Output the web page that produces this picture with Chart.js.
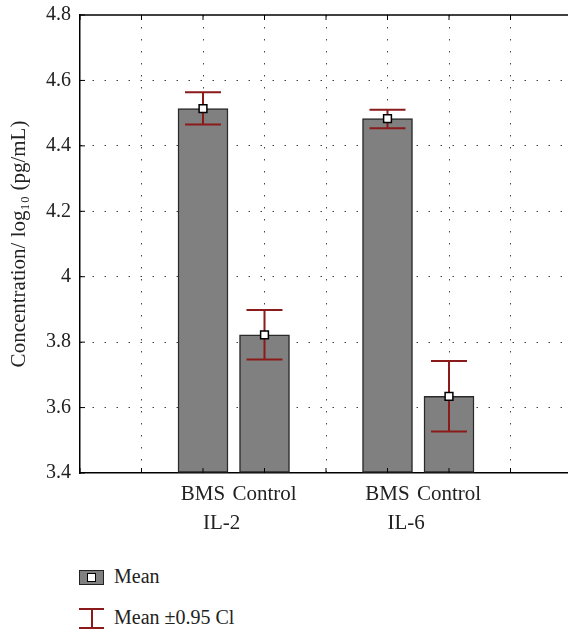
<!DOCTYPE html>
<html>
<head>
<meta charset="utf-8">
<script src="https://cdn.jsdelivr.net/npm/chart.js@4"></script>
<style>
  html, body { margin: 0; padding: 0; background: #fff; overflow: hidden; }
  #wrap { position: relative; width: 568px; height: 632px; overflow: hidden; }
  #chart { position: absolute; left: 0; top: 0; }
  .legend { position: absolute; left: 0; font-family: 'Liberation Serif', serif; font-size: 20px; color: #222; }
  .item { position: absolute; left: 79px; height: 22px; white-space: nowrap; }
  .item span { position: absolute; left: 35px; top: -2px; }
  .swatch { position: absolute; left: 0; top: 3px; width: 23px; height: 13px; background: #808080; border: 1px solid #222; }
  .swatch i { position: absolute; left: 7px; top: 2px; width: 7px; height: 7px; background: #fff; border: 1px solid #000; }
  .ebar { position: absolute; left: 0; top: 0; width: 25px; height: 21px; }
  .ebar b { position: absolute; background: #8b1a1a; }
</style>
</head>
<body>
<div id="wrap">
  <canvas id="chart" width="600" height="540"></canvas>
  <div class="legend">
    <div class="item" style="top:567px"><div class="swatch"><i></i></div><span>Mean</span></div>
    <div class="item" style="top:608px">
      <div class="ebar">
        <b style="left:0;top:0;width:25px;height:2px"></b>
        <b style="left:11.5px;top:0;width:2px;height:21px"></b>
        <b style="left:0;top:19px;width:25px;height:2px"></b>
      </div>
      <span>Mean ±0.95 Cl</span>
    </div>
  </div>
</div>
<script>
// categories and their slots on the x axis
const categories = ['BMS', 'Control', 'BMS', 'Control'];
const xPositions = [2, 3, 5, 6];
const groups = ['IL-2', 'IL-6'];
const groupStarts = [2, 5];

// means and 0.95 CI, log10 (pg/mL)
const means = [4.514, 3.822, 4.483, 3.634];
const ciLower = [4.465, 3.747, 4.454, 3.527];
const ciUpper = [4.564, 3.898, 4.510, 3.742];

const yTicks = [3.4, 3.6, 3.8, 4, 4.2, 4.4, 4.6, 4.8];
const yTickLabels = ['3.4', '3.6', '3.8', '4', '4.2', '4.4', '4.6', '4.8'];
const xTicks = [0, 1, 2, 3, 4, 5, 6, 7, 8];

const yMin = 3.4;
const yMax = 4.8;
const serif = "'Liberation Serif', 'DejaVu Serif', serif";
const red = '#8b1a1a';
const ink = '#222';

const errorBars = {
	id: 'errorBars',
	afterDatasetDraw(chart, args) {
		if (args.index !== 0) return;
		const { ctx } = chart;
		const x = chart.scales.x;
		const y = chart.scales.y;
		ctx.save();
		ctx.strokeStyle = red;
		ctx.lineWidth = 2;
		xPositions.forEach((pos, i) => {
			const px = x.getPixelForValue(pos);
			const top = y.getPixelForValue(ciUpper[i]);
			const bot = y.getPixelForValue(ciLower[i]);
			ctx.beginPath();
			ctx.moveTo(px, top);
			ctx.lineTo(px, bot);
			ctx.moveTo(px - 18, top);
			ctx.lineTo(px + 18, top);
			ctx.moveTo(px - 18, bot);
			ctx.lineTo(px + 18, bot);
			ctx.stroke();
		});
		ctx.restore();
	},
};

const frame = {
	id: 'frame',
	afterDraw(chart) {
		const { ctx, chartArea } = chart;
		const x = chart.scales.x;
		const y = chart.scales.y;
		ctx.save();
		ctx.strokeStyle = '#000';
		ctx.lineWidth = 1.5;
		ctx.beginPath();
		ctx.moveTo(chartArea.left, chartArea.top);
		ctx.lineTo(chartArea.right, chartArea.top);
		ctx.stroke();
		// inward ticks
		ctx.lineWidth = 1;
		ctx.beginPath();
		xTicks.forEach((v) => {
			const px = x.getPixelForValue(v);
			ctx.moveTo(px, chartArea.bottom);
			ctx.lineTo(px, chartArea.bottom - 5);
			ctx.moveTo(px, chartArea.top);
			ctx.lineTo(px, chartArea.top + 5);
		});
		yTicks.forEach((v) => {
			const py = y.getPixelForValue(v);
			ctx.moveTo(chartArea.left, py);
			ctx.lineTo(chartArea.left + 5, py);
		});
		ctx.stroke();
		// group labels under the category labels
		ctx.fillStyle = ink;
		ctx.font = '21px ' + serif;
		ctx.textAlign = 'left';
		ctx.textBaseline = 'middle';
		groups.forEach((g, i) => {
			ctx.fillText(g, x.getPixelForValue(groupStarts[i]), chartArea.bottom + 50);
		});
		ctx.restore();
	},
};

new Chart(document.getElementById('chart').getContext('2d'), {
	type: 'bar',
	data: {
		datasets: [
			{
				type: 'bar',
				data: xPositions.map((pos, i) => ({ x: pos, y: means[i] })),
				base: yMin,
				backgroundColor: '#808080',
				borderColor: '#2a2a2a',
				borderWidth: 1.5,
				borderSkipped: false,
				barThickness: 50,
				order: 2,
			},
			{
				type: 'scatter',
				data: xPositions.map((pos, i) => ({ x: pos, y: means[i] })),
				pointStyle: 'rect',
				radius: 5.5,
				backgroundColor: '#fff',
				borderColor: '#000',
				borderWidth: 1.5,
				order: 1,
			},
		],
	},
	plugins: [errorBars, frame],
	options: {
		responsive: false,
		animation: false,
		events: [],
		layout: { padding: { top: 15, right: 28, left: 0, bottom: 0 } },
		plugins: {
			legend: { display: false },
			tooltip: { enabled: false },
		},
		scales: {
			x: {
				type: 'linear',
				min: 0,
				max: 8,
				offset: false,
				afterBuildTicks: (scale) => {
					scale.ticks = xTicks.map((v) => ({ value: v }));
				},
				afterFit: (scale) => {
					scale.height = 67;
					scale.paddingLeft = 0;
					scale.paddingRight = 0;
				},
				grid: {
					offset: false,
					drawTicks: false,
					lineWidth: 1,
					color: (c) =>
						c.tick && c.tick.value > 0 && c.tick.value < 8 ? '#444' : 'rgba(0,0,0,0)',
				},
				border: { display: true, color: '#000', width: 1.5, dash: [1.5, 10.5] },
				ticks: {
					autoSkip: false,
					maxRotation: 0,
					padding: 9,
					color: ink,
					font: { family: serif, size: 21 },
					callback: (v) => {
						const i = xPositions.indexOf(v);
						return i >= 0 ? categories[i] : '';
					},
				},
			},
			y: {
				min: yMin,
				max: yMax,
				afterBuildTicks: (scale) => {
					scale.ticks = yTicks.map((v) => ({ value: v }));
				},
				afterFit: (scale) => {
					scale.width = 80;
					scale.paddingTop = 0;
					scale.paddingBottom = 0;
				},
				grid: {
					drawTicks: false,
					lineWidth: 1,
					color: (c) =>
						c.tick && c.tick.value > yMin && c.tick.value < yMax ? '#444' : 'rgba(0,0,0,0)',
				},
				border: { display: true, color: '#000', width: 1.5, dash: [1.5, 10.5] },
				ticks: {
					padding: 9,
					color: ink,
					font: { family: serif, size: 20 },
					callback: (v, i) => yTickLabels[i],
				},
				title: {
					display: true,
					text: 'Concentration/ log₁₀ (pg/mL)',
					color: ink,
					font: { family: serif, size: 21 },
					padding: { top: 7, bottom: 0 },
				},
			},
		},
	},
});
</script>
</body>
</html>
